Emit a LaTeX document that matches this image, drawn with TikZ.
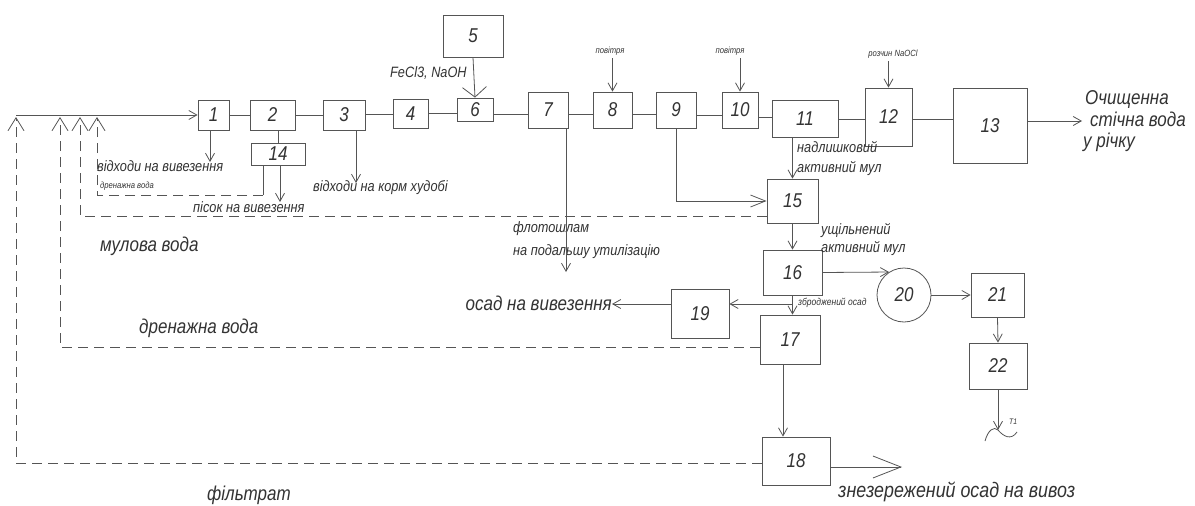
\documentclass[tikz,border=0pt]{standalone}
\usepackage{fontspec}
\newfontfamily\gost[FakeStretch=0.85]{Liberation Sans}
\usetikzlibrary{arrows.meta}
\definecolor{ln}{HTML}{555555}
\definecolor{tx}{HTML}{333333}
\begin{document}
\begin{tikzpicture}[x=1pt,y=-1pt,
  blk/.style={draw=ln, line width=0.8pt, inner sep=0pt, text=tx, font=\gost\itshape\fontsize{20}{20}\selectfont},
  con/.style={draw=ln, line width=0.8pt},
  arr/.style={con, -{Straight Barb[length=8pt,width=9pt]}},
  arrwide/.style={con, -{Straight Barb[length=10pt,width=24pt]}},
  arrlong/.style={con, -{Straight Barb[length=15pt,width=12pt]}},
  arrbig/.style={con, -{Straight Barb[length=28pt,width=22pt]}},
  arrup/.style={con, -{Straight Barb[length=13pt,width=16pt]}},
  dsh/.style={dash pattern=on 10pt off 6pt},
  lab/.style={text=tx, inner sep=0pt, font=\gost\itshape\fontsize{15}{15}\selectfont},
  labS/.style={text=tx, inner sep=0pt, font=\gost\itshape\fontsize{9}{9}\selectfont},
  labL/.style={text=tx, inner sep=0pt, font=\gost\itshape\fontsize{20}{20}\selectfont},
  labX/.style={text=tx, inner sep=0pt, font=\gost\itshape\fontsize{20}{20}\selectfont}
]
\fill[white] (0,0) rectangle (1195,506);
\useasboundingbox (0,0) rectangle (1195,506);

% boxes
\node[blk, minimum width=31pt, minimum height=30pt] (b1) at (213.5,115) {1};
\node[blk, minimum width=45pt, minimum height=30pt] (b2) at (272.5,115) {2};
\node[blk, minimum width=42pt, minimum height=30pt] (b3) at (344,115) {3};
\node[blk, minimum width=35pt, minimum height=29pt] (b4) at (410.5,113.5) {4};
\node[blk, minimum width=60pt, minimum height=42pt] (b5) at (473,36) {5};
\node[blk, minimum width=36pt, minimum height=23pt] (b6) at (475,109.5) {6};
\node[blk, minimum width=40pt, minimum height=36pt] (b7) at (548,110) {7};
\node[blk, minimum width=39pt, minimum height=36pt] (b8) at (612.5,110) {8};
\node[blk, minimum width=40pt, minimum height=36pt] (b9) at (676,110) {9};
\node[blk, minimum width=36pt, minimum height=36pt] (b10) at (740,110) {10};
\node[blk, minimum width=66pt, minimum height=37pt] (b11) at (805,118.5) {11};
\node[blk, minimum width=47pt, minimum height=58pt] (b12) at (888.5,117) {12};
\node[blk, minimum width=74pt, minimum height=75pt] (b13) at (990,125.5) {13};
\node[blk, minimum width=54pt, minimum height=22pt] (b14) at (278,154) {14};
\node[blk, minimum width=51pt, minimum height=44pt] (b15) at (792.5,201) {15};
\node[blk, minimum width=59pt, minimum height=45pt] (b16) at (792.5,272.5) {16};
\node[blk, minimum width=60pt, minimum height=49pt] (b17) at (790,339.5) {17};
\node[blk, minimum width=68pt, minimum height=48pt] (b18) at (796,461) {18};
\node[blk, minimum width=58pt, minimum height=49pt] (b19) at (700,313.5) {19};
\node[blk, circle, minimum size=54pt] (b20) at (904,295) {20};
\node[blk, minimum width=53pt, minimum height=44pt] (b21) at (997.5,295) {21};
\node[blk, minimum width=58pt, minimum height=46pt] (b22) at (998,366) {22};

% labels
\node[lab, anchor=base west] (l1) at (97,171) {відходи на вивезення};
\node[labS, anchor=base west] (l1b) at (100,188) {дренажна вода};
\node[lab, anchor=base west] (l14) at (193,212) {пісок на вивезення};
\node[lab, anchor=base west] (l3) at (313,191) {відходи на корм худобі};
\node[lab, anchor=base west] (lfe) at (390,77) {FeCl3, NaOH};
\node[labS, anchor=base] (pov8) at (610,53) {повітря};
\node[labS, anchor=base] (pov10) at (730,53) {повітря};
\node[labS, anchor=base] (naocl) at (893,56) {розчин NaOCl};
\node[lab, anchor=base west] (l11a) at (797,152) {надлишковий};
\node[lab, anchor=base west] (l11b) at (797,172) {активний мул};
\node[labX, anchor=base west] (o1) at (1085,104) {Очищенна};
\node[labX, anchor=base west] (o2) at (1090,126) {стічна вода};
\node[labX, anchor=base west] (o3) at (1083,147) {у річку};
\node[lab, anchor=base west] (fl1) at (513,232) {флотошлам};
\node[lab, anchor=base west] (fl2) at (513,255) {на подальшу утилізацію};
\node[lab, anchor=base west] (u1) at (821,234) {ущільнений};
\node[lab, anchor=base west] (u2) at (821,252) {активний мул};
\node[labL, anchor=base west] (mv) at (100,251) {мулова вода};
\node[labL, anchor=base west] (dv) at (139,333) {дренажна вода};
\node[labL, anchor=base east] (osad) at (612,310) {осад на вивезення};
\node[labS, anchor=base west, font=\gost\itshape\fontsize{10}{10}\selectfont] (zo) at (798,305) {зброджений осад};
\node[labL, anchor=base west] (fil) at (207,500) {фільтрат};
\node[labL, anchor=base west, font=\gost\itshape\fontsize{21}{21}\selectfont] (zn) at (838,497) {знезережений осад на вивоз};
\node[labS, anchor=base west, font=\gost\itshape\fontsize{8}{8}\selectfont] (t1lab) at (1009,424) {T1};

% coordinates
\coordinate (in) at (20,115);
\coordinate (t1) at (16,117);
\coordinate (t2) at (60,117);
\coordinate (t3) at (80,117);
\coordinate (t4) at (97,117);
\coordinate (e1) at (210,162);
\coordinate (e3) at (356,183);
\coordinate (e14) at (280,202);
\coordinate (d14) at (263,195);
\coordinate (e7) at (566,272);
\coordinate (e13) at (1082,121);
\coordinate (j1) at (792,304);
\coordinate (e18) at (902,467);
\coordinate (t22) at (998,430);

% main line
\draw[con] (in) -- (t1 |- in);
\draw[arr] (in) -- (b1.west);
\draw[con] (b1.east) -- (b2.west);
\draw[con] (b2.east) -- (b3.west);
\draw[con] ([yshift=1pt]b3.east) -- ([yshift=1pt]b3.east -| b4.west);
\draw[con] (b4.east) -- (b4.east -| b6.west);
\draw[con] ([yshift=-5pt]b6.east) -- ([yshift=-5pt]b6.east -| b7.west);
\draw[con] ([yshift=-4pt]b7.east) -- ([yshift=-4pt]b7.east -| b8.west);
\draw[con] ([yshift=-4pt]b8.east) -- ([yshift=-4pt]b8.east -| b9.west);
\draw[con] ([yshift=-5pt]b9.east) -- ([yshift=-5pt]b9.east -| b10.west);
\draw[con] ([yshift=-7pt]b10.east) -- ([yshift=-7pt]b10.east -| b11.west);
\draw[con] ([yshift=-0.5pt]b11.east) -- ([yshift=-0.5pt]b11.east -| b12.west);
\draw[con] ([yshift=-2pt]b12.east) -- ([yshift=-2pt]b12.east -| b13.west);
\draw[arr] (b13.east |- e13) -- (e13);

% feeds from above
\draw[arrwide] (b5.south) -- (b6.north);
\draw[arr] ([yshift=-3pt]pov8.south -| b8.north) -- (b8.north);
\draw[arr] ([yshift=-3pt]pov10.south -| b10.north) -- (b10.north);
\draw[arr] ([yshift=-3pt]naocl.south -| b12.north) -- (b12.north);

% downward outputs
\draw[arr] (b1.south -| e1) -- (e1);
\draw[con] (b2.south -| b14.north) -- (b14.north);
\draw[arr] (b14.south -| e14) -- (e14);
\draw[arr] (b3.south -| e3) -- (e3);
\draw[arr] (b7.south -| e7) -- (e7);
\draw[arrlong] (b9.south) |- (b15.west);
\draw[arr] (b11.south -| b15.north) -- (b15.north);
\draw[arr] (b15.south) -- (b16.north);
\draw[arr] (b16.east) -- (b20.123.5);
\draw[arr] (b20.east) -- (b21.west);
\draw[arr] (b21.south) -- (b22.north);
\draw[arr] (b22.south) -- (t22);
\draw[con] (985,441) .. controls (988,430) and (994,426) .. (998,430) .. controls (1003,436) and (1011,441) .. (1017,432);
\draw[arr] (b16.south) -- (b16.south |- b17.north);
\draw[arr] (j1) -- (j1 -| b19.east);
\draw[arr] (j1 -| b19.west) -- (osad.east |- j1);
\draw[arr] ([xshift=-7pt]b17.south) -- ([xshift=-7pt]b17.south |- b18.north);
\draw[arrbig] (b18.east |- e18) -- (e18);

% dashed returns
\draw[con] (b14.south -| d14) -- (d14);
\draw[arrup, dsh] (d14) -| (t4);
\draw[arrup, dsh] ([yshift=-15pt]b15.west) -| (t3);
\draw[arrup, dsh] ([yshift=-7.5pt]b17.west) -| (t2);
\draw[arrup, dsh] ([yshift=-2pt]b18.west) -| (t1);
\end{tikzpicture}
\end{document}
